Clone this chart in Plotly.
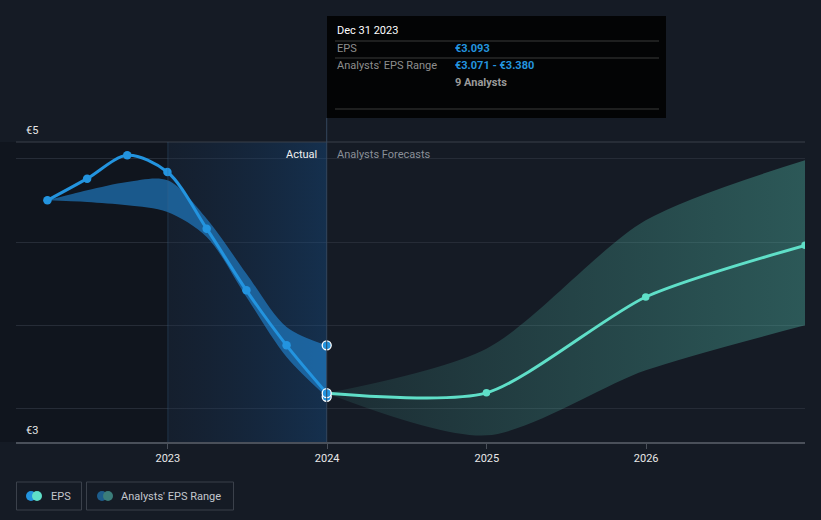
import plotly.graph_objects as go

# ---------------- data ----------------
past_dates = ["2022-03-31", "2022-06-30", "2022-09-30", "2022-12-31",
              "2023-03-31", "2023-06-30", "2023-09-30", "2023-12-31"]
eps_past = [4.25, 4.38, 4.52, 4.42, 4.08, 3.71, 3.38, 3.093]
range_low_past = [4.25, 4.24, 4.22, 4.18, 4.03, 3.67, 3.31, 3.071]
range_high_past = [4.25, 4.31, 4.36, 4.37, 4.14, 3.81, 3.49, 3.380]

fc_dates = ["2023-12-31", "2024-12-31", "2025-12-31", "2026-12-31"]
eps_fc = [3.093, 3.095, 3.67, 3.98]
range_low_fc = [3.093, 2.84, 3.23, 3.50]
range_high_fc = [3.093, 3.36, 4.13, 4.49]

tick_vals = ["2023-01-01", "2024-01-01", "2025-01-01", "2026-01-01"]
tick_text = ["2023", "2024", "2025", "2026"]
y_grid = [3.0, 3.5, 4.0, 4.5]
y_labels = ["€5", "€3"]
n_analysts = 9
x_range = ["2022-01-18", "2026-12-31"]
y_range = [2.8, 4.6]

# ---------------- layout geometry ----------------
W, H = 821, 520
ML, MR, MT, MB = 16, 16, 142, 78
PW, PH = W - ML - MR, H - MT - MB


def px(x):
    return (x - ML) / PW


def py(y):
    return (H - MB - y) / PH


BG = "#151b25"
BLUE = "#2394df"
TEAL = "#5fdfc8"
FONT = "Roboto, Open Sans, sans-serif"

fig = go.Figure()

# actual-period background gradient
fig.add_trace(go.Scatter(
    x=[tick_vals[0], past_dates[-1], past_dates[-1], tick_vals[0], tick_vals[0]],
    y=[y_range[0], y_range[0], y_range[1], y_range[1], y_range[0]],
    mode="none", fill="toself",
    fillgradient=dict(type="horizontal",
                      colorscale=[[0, "rgba(20,60,110,0.12)"], [1, "rgba(20,90,160,0.33)"]]),
    hoverinfo="skip", showlegend=False))

# past range band
fig.add_trace(go.Scatter(x=past_dates, y=range_low_past, mode="lines",
                         line=dict(width=0, shape="spline", smoothing=0.9),
                         hoverinfo="skip", showlegend=False))
fig.add_trace(go.Scatter(x=past_dates, y=range_high_past, mode="lines",
                         line=dict(width=0, shape="spline", smoothing=0.9),
                         fill="tonexty", fillcolor="rgba(35,140,220,0.58)",
                         hoverinfo="skip", showlegend=False))

# forecast range band
fig.add_trace(go.Scatter(x=fc_dates, y=range_low_fc, mode="lines",
                         line=dict(width=0, shape="spline", smoothing=0.8),
                         hoverinfo="skip", showlegend=False))
fig.add_trace(go.Scatter(x=fc_dates, y=range_high_fc, mode="lines",
                         line=dict(width=0, shape="spline", smoothing=0.8),
                         fill="tonexty",
                         fillgradient=dict(type="horizontal",
                                           colorscale=[[0, "rgba(95,224,200,0.09)"],
                                                       [1, "rgba(95,224,200,0.31)"]]),
                         hoverinfo="skip", showlegend=False))

# EPS past line
fig.add_trace(go.Scatter(x=past_dates, y=eps_past, mode="lines+markers",
                         line=dict(color=BLUE, width=3, shape="spline", smoothing=0.9),
                         marker=dict(size=8.5, color=BLUE),
                         name="EPS", showlegend=False))
# EPS forecast line
fig.add_trace(go.Scatter(x=fc_dates, y=eps_fc, mode="lines+markers",
                         line=dict(color=TEAL, width=3, shape="spline", smoothing=0.7),
                         marker=dict(size=7.5, color=TEAL),
                         name="EPS forecast", showlegend=False))

# highlighted points at the last actual date
fig.add_trace(go.Scatter(x=[past_dates[-1]] * 3,
                         y=[range_high_past[-1], range_low_past[-1], eps_past[-1]],
                         mode="markers",
                         marker=dict(size=9, color=BLUE, line=dict(color="white", width=1.3)),
                         hoverinfo="skip", showlegend=False))

shapes = []
# darker past background left of 2023
shapes.append(dict(type="rect", xref="paper", yref="paper", x0=px(0), x1=px(168),
                   y0=0, y1=1, fillcolor="rgba(10,12,16,0.35)", line=dict(width=0),
                   layer="below"))
# top line
shapes.append(dict(type="line", xref="paper", yref="paper", x0=0, x1=1, y0=1, y1=1,
                   line=dict(color="#3b414b", width=1)))
# 2023 vertical guide
shapes.append(dict(type="line", xref="x", yref="paper", x0=tick_vals[0], x1=tick_vals[0],
                   y0=0, y1=1, line=dict(color="rgba(60,100,140,0.35)", width=1)))
# now line
shapes.append(dict(type="line", xref="x", yref="paper", x0=past_dates[-1], x1=past_dates[-1],
                   y0=0, y1=py(118), line=dict(color="#34475e", width=1)))

# tooltip box
shapes.append(dict(type="rect", xref="paper", yref="paper", x0=px(327), x1=px(666),
                   y0=py(118), y1=py(16), fillcolor="#030405", line=dict(width=0)))
for yy in (41, 58, 109):
    shapes.append(dict(type="line", xref="paper", yref="paper", x0=px(335), x1=px(659),
                       y0=py(yy), y1=py(yy), line=dict(color="#3a3a3a", width=1)))

# legend boxes
for x0, x1 in ((16.5, 81.5), (86.5, 233.5)):
    shapes.append(dict(type="rect", xref="paper", yref="paper", x0=px(x0), x1=px(x1),
                       y0=py(510), y1=py(482), line=dict(color="#3b414b", width=1),
                       fillcolor="rgba(0,0,0,0)"))
# legend icons
for cx, col in ((31, BLUE), (37, TEAL), (102, "#1d5d8c"), (108, "#3b7d7a")):
    shapes.append(dict(type="circle", xref="paper", yref="paper",
                       xsizemode="pixel", ysizemode="pixel",
                       xanchor=px(cx), yanchor=py(496),
                       x0=-5, x1=5, y0=-5, y1=5, fillcolor=col, line=dict(width=0)))

ann = []


def text(x, y, t, color, size=11, anchor="left", bold=False):
    ann.append(dict(xref="paper", yref="paper", x=px(x), y=py(y), text=(f"<b>{t}</b>" if bold else t),
                    showarrow=False, xanchor=anchor, yanchor="middle",
                    font=dict(family=FONT, size=size, color=color)))


text(24, 130, y_labels[0], "#e6e6e6")
text(24, 430, y_labels[1], "#e6e6e6")
text(319, 154, "Actual", "#f0f0f0", anchor="right")
text(335, 154, "Analysts Forecasts", "#8a8f98")

# tooltip text
text(335, 31, "Dec 31 2023", "#ffffff")
text(335, 49, "EPS", "#8e8e8e")
text(453, 49, f"€{eps_past[-1]:.3f}", BLUE, bold=True)
text(335, 66, "Analysts' EPS Range", "#8e8e8e")
text(453, 66, f"€{range_low_past[-1]:.3f} - €{range_high_past[-1]:.3f}", BLUE, bold=True)
text(453, 83, f"{n_analysts} Analysts", "#9a9a9a", bold=True)

# legend text
text(49, 496, "EPS", "#c3c7cd")
text(119, 496, "Analysts' EPS Range", "#c3c7cd")

fig.update_layout(
    width=W, height=H,
    margin=dict(l=ML, r=MR, t=MT, b=MB, pad=0),
    paper_bgcolor=BG, plot_bgcolor=BG,
    showlegend=False,
    shapes=shapes, annotations=ann,
    hovermode=False,
    xaxis=dict(type="date", range=x_range, tickvals=tick_vals, ticktext=tick_text,
               showgrid=False, zeroline=False, showline=True, linecolor="#4a505a",
               linewidth=1.5, ticks="outside", ticklen=5, tickcolor="#4a505a",
               tickfont=dict(family=FONT, size=11, color="#e8e8e8"), fixedrange=True),
    yaxis=dict(range=y_range, tickvals=y_grid, showticklabels=False, showgrid=True,
               gridcolor="#262c37", gridwidth=1, zeroline=False, showline=False,
               fixedrange=True),
)

fig.write_html("out.html", config={"displayModeBar": False},
               post_script="document.body.style.margin='0';document.body.style.background='#151b25';")
